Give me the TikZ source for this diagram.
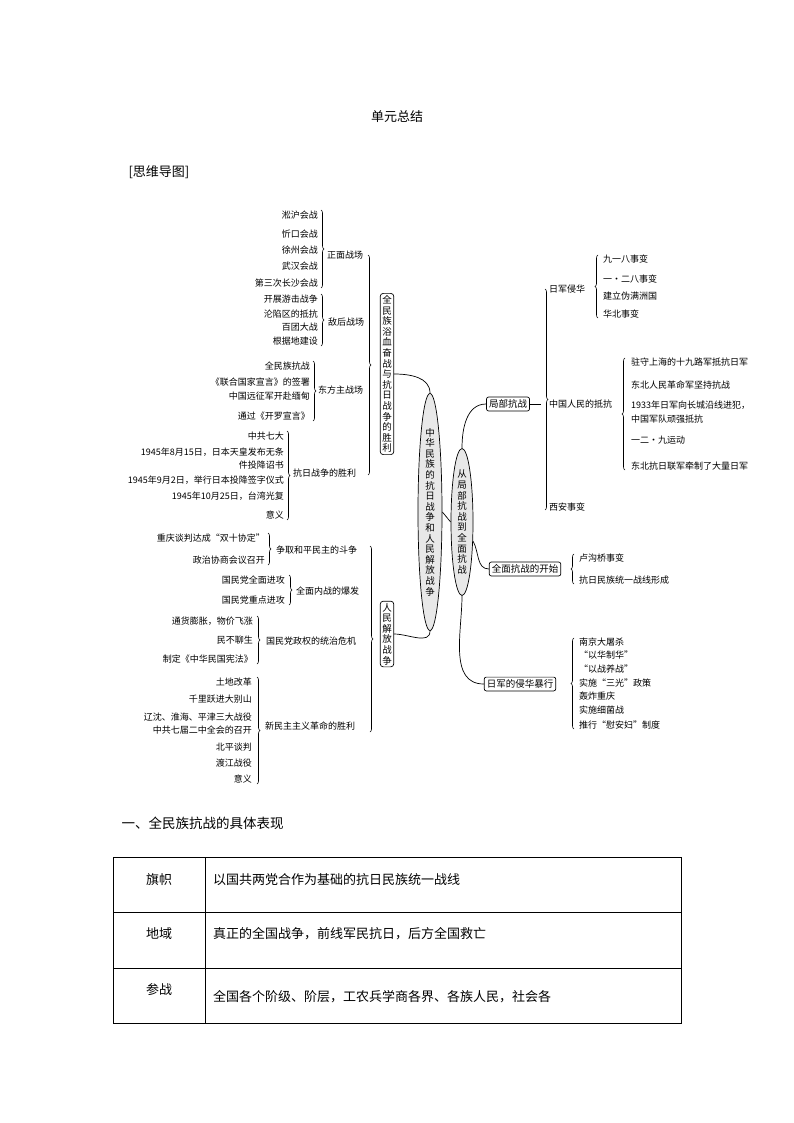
\documentclass[tikz,border=0pt]{standalone}
\usepackage{fontspec}
\setmainfont{Noto Sans CJK SC}
\usetikzlibrary{shapes.geometric,decorations.pathreplacing}
\begin{document}
\begin{tikzpicture}[x=1pt,y=-1pt,
  it/.style={font=\fontsize{9}{10}\selectfont,inner sep=0pt},
  L/.style={it,anchor=east},
  R/.style={it,anchor=west},
  br/.style={decorate,decoration={brace,amplitude=3pt},line width=0.6pt},
  vbox/.style={draw,rounded corners=3pt,line width=0.7pt,inner sep=2pt,align=center,font=\fontsize{9.5}{10.6}\selectfont},
  ell/.style={draw,ellipse,fill=gray!18,line width=0.7pt,inner sep=0pt,align=center,font=\fontsize{9.5}{10.6}\selectfont},
  hbox/.style={draw,rounded corners=2pt,line width=0.7pt,inner sep=2.5pt,font=\fontsize{9.5}{11}\selectfont},
  ln/.style={line width=0.7pt}]
\useasboundingbox (0,0) rectangle (794,1123);
\node[font=\fontsize{13}{15}\selectfont] (title) at (397,117) {单元总结};
\node[font=\fontsize{13}{15}\selectfont,anchor=west] (sw) at (125,172) {[思维导图]};
% center
\node[ell,minimum width=24,minimum height=212] (c) at (430,512) {中\\华\\民\\族\\的\\抗\\日\\战\\争\\和\\人\\民\\解\\放\\战\\争};
\node[ell,minimum width=22,minimum height=142] (r) at (462,522) {从\\局\\部\\抗\\战\\到\\全\\面\\抗\\战};
\draw[ln] (c.east) -- (r.west);
\node[vbox] (b1) at (387,374) {全\\民\\族\\浴\\血\\奋\\战\\与\\抗\\日\\战\\争\\的\\胜\\利};
\node[vbox] (b2) at (387,634) {人\\民\\解\\放\\战\\争};
\draw[ln] (b1.east) to[out=0,in=90] (c.north);
\draw[ln] (b2.east) to[out=0,in=-90] (c.south);
% left upper groups
\foreach \t/\y in {淞沪会战/215,忻口会战/234,徐州会战/250,武汉会战/266,第三次长沙会战/283} \node[L] at (318,\y) {\t};
\draw[br] (321,210) -- (321,288);
\node[R] (g1) at (327,255) {正面战场};
\foreach \t/\y in {开展游击战争/299,沦陷区的抵抗/314,百团大战/327,根据地建设/341} \node[L] at (318,\y) {\t};
\draw[br] (321,294) -- (321,346);
\node[R] (g2) at (328,322) {敌后战场};
\foreach \t/\y in {全民族抗战/366,《联合国家宣言》的签署/382,中国远征军开赴缅甸/396,通过《开罗宣言》/416} \node[L] at (310,\y) {\t};
\draw[br] (313,361) -- (313,421);
\node[R] (g3) at (318,390) {东方主战场};
\foreach \t/\y in {中共七大/436,{1945年8月15日，日本天皇发布无条}/452,件投降诏书/465,{1945年9月2日，举行日本投降签字仪式}/480,{1945年10月25日，台湾光复}/496,意义/515} \node[L] at (284,\y) {\t};
\draw[br] (287,431) -- (287,520);
\node[R] (g4) at (293,473) {抗日战争的胜利};
\draw[br] (368,255) -- (368,475);
% left lower groups
\node[L] at (265,538) {重庆谈判达成“双十协定”};
\node[L] at (265,560) {政治协商会议召开};
\draw[br] (268,533) -- (268,565);
\node[R] (h1) at (276,550) {争取和平民主的斗争};
\node[L] at (285,580) {国民党全面进攻};
\node[L] at (285,600) {国民党重点进攻};
\draw[br] (289,575) -- (289,605);
\node[R] (h2) at (296,591) {全面内战的爆发};
\foreach \t/\y in {{通货膨胀，物价飞涨}/621,民不聊生/640,制定《中华民国宪法》/659} \node[L] at (253,\y) {\t};
\draw[br] (257,616) -- (257,664);
\node[R] (h3) at (266,641) {国民党政权的统治危机};
\foreach \t/\y in {土地改革/682,千里跃进大别山/699,辽沈、淮海、平津三大战役/717,中共七届二中全会的召开/730,北平谈判/747,渡江战役/763,意义/779} \node[L] at (252,\y) {\t};
\draw[br] (257,677) -- (257,784);
\node[R] (h4) at (265,726) {新民主主义革命的胜利};
\draw[br] (370,546) -- (370,732);
% right
\node[hbox] (p1) at (508,404) {局部抗战};
\node[hbox] (p2) at (525,569) {全面抗战的开始};
\node[hbox] (p3) at (520,684) {日军的侵华暴行};
\draw[ln] (r.north) to[out=90,in=180] (p1.west);
\draw[ln] (r.-60) to[out=-60,in=180] (p2.west);
\draw[ln] (r.south) to[out=-90,in=180] (p3.west);
\draw[br] (545,289) -- (545,510);
\draw[ln] (p1.east) -- (541,404);
\node[R] (q1) at (549,289) {日军侵华};
\node[R] (q2) at (549,404) {中国人民的抵抗};
\node[R] (q3) at (549,507) {西安事变};
\draw[br] (598,318) -- (598,255);
\foreach \t/\y in {九一八事变/259,一·二八事变/279,建立伪满洲国/296,华北事变/314} \node[R] at (603,\y) {\t};
\draw[br] (625,470) -- (625,358);
\node[R] at (631,362) {驻守上海的十九路军抵抗日军};
\node[R] at (631,385) {东北人民革命军坚持抗战};
\node[R] at (631,405) {1933年日军向长城沿线进犯，};
\node[R] at (631,419) {中国军队顽强抵抗};
\node[R] at (631,440) {一二·九运动};
\node[R] at (631,466) {东北抗日联军牵制了大量日军};
\draw[br] (574,584) -- (574,554);
\node[R] at (579,558) {卢沟桥事变};
\node[R] at (579,580) {抗日民族统一战线形成};
\draw[br] (574,729) -- (574,638);
\foreach \t/\y in {南京大屠杀/642,“以华制华”/655,“以战养战”/669,实施“三光”政策/683,轰炸重庆/696,实施细菌战/710,推行“慰安妇”制度/725} \node[R] at (579,\y) {\t};
% section + table
\node[anchor=west,font=\fontsize{13.5}{15}\selectfont] (sec) at (118,823) {一、全民族抗战的具体表现};
\draw[line width=0.6pt] (113,857) rectangle (681,1023);
\draw[line width=0.6pt] (113,912) -- (681,912) (113,968) -- (681,968) (205,857) -- (205,1023);
\begin{scope}[every node/.style={font=\fontsize{13}{15}\selectfont,inner sep=0}]
\node (k1) at (159,880) {旗帜};
\node (k2) at (159,934) {地域};
\node (k3) at (159,990) {参战};
\node[anchor=west] (v1) at (213,880) {以国共两党合作为基础的抗日民族统一战线};
\node[anchor=west] (v2) at (213,934) {真正的全国战争，前线军民抗日，后方全国救亡};
\node[anchor=west] (v3) at (213,997) {全国各个阶级、阶层，工农兵学商各界、各族人民，社会各};
\end{scope}
\end{tikzpicture}
\end{document}
